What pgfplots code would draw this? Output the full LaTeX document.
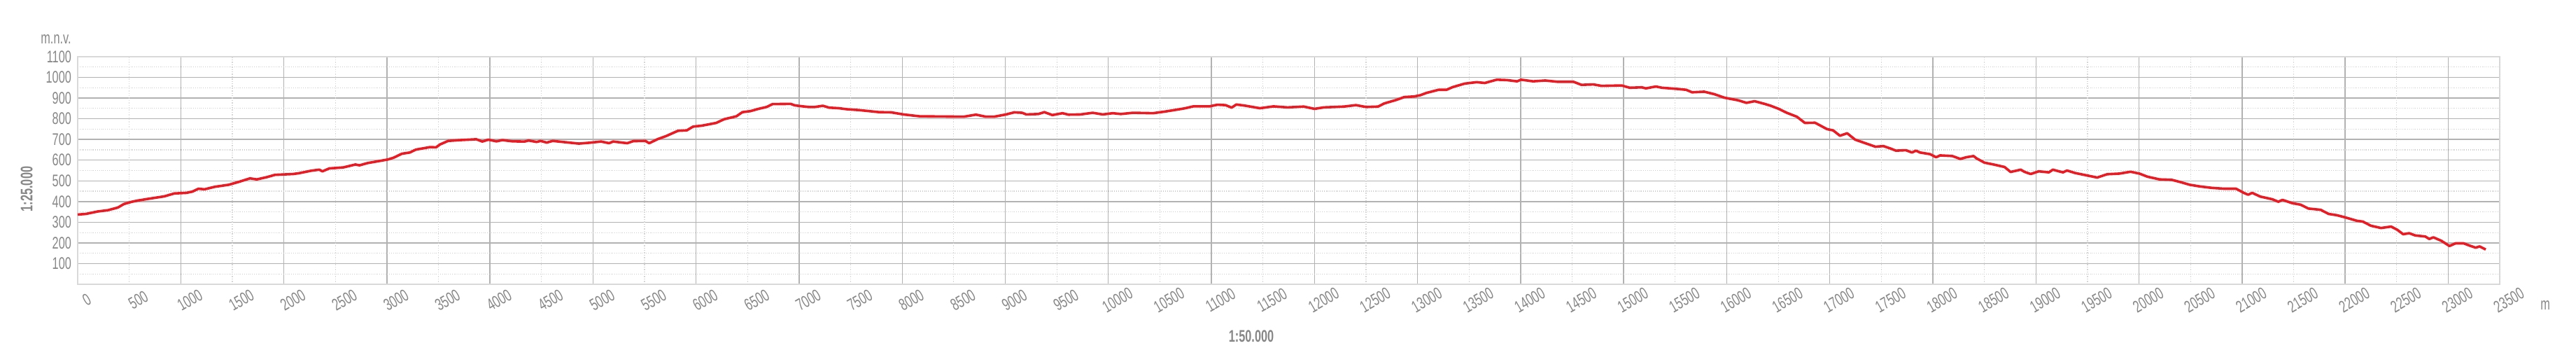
\documentclass[border=0pt]{standalone}
\usepackage{pgfplots}
\pgfplotsset{compat=1.18}
\usepackage{fontspec}
\setmainfont{Liberation Sans}[FakeStretch=0.68]
\definecolor{txt}{RGB}{135,135,135}
\definecolor{prof}{RGB}{232,28,36}
\begin{document}
\begin{tikzpicture}[font=\fontsize{12}{14}\selectfont]
\useasboundingbox (-55.5pt,-55pt) rectangle (1785pt,203pt);
\begin{axis}[
 at={(0,0)}, anchor=south west,
 scale only axis, width=1730.5pt, height=162.5pt,
 xmin=0, xmax=23500, ymin=0, ymax=1100,
 xtick={0,1000,...,23000},
 extra x ticks={500,1500,...,23500},
 extra x tick style={grid=major, major grid style={black!16, densely dotted, line width=0.6pt}},
 ytick={100,200,...,1100},
 minor ytick={50,150,...,1050},
 grid=both,
 major grid style={black!30, line width=0.7pt},
 minor grid style={black!20, densely dotted, line width=0.6pt},
 major tick length=0pt, minor tick length=0pt,
 axis line style={black!15, line width=0.8pt},
 /pgf/number format/1000 sep={},
 scaled x ticks=false,
 tick label style={text=txt, /pgf/number format/assume math mode=true},
 xticklabel style={rotate=30, anchor=center, yshift=-13pt},
 yticklabel style={xshift=-1pt},
]
\addplot[prof, line width=1.8pt, line join=round] table {
0 337
78 340
195 352
293 358
390 371
449 388
527 399
586 405
684 413
840 425
937 439
1055 442
1113 448
1172 462
1230 459
1328 471
1465 481
1563 495
1672 512
1738 507
1836 518
1914 529
2090 533
2148 537
2266 549
2344 554
2375 546
2441 560
2578 565
2695 579
2734 575
2813 586
3008 603
3066 612
3145 631
3223 637
3281 651
3418 663
3477 662
3516 676
3594 693
3711 697
3867 701
3926 690
3984 699
4063 691
4121 697
4219 691
4336 690
4375 695
4453 688
4492 693
4551 685
4609 693
4863 680
4961 684
5078 690
5156 682
5195 690
5332 682
5391 692
5508 693
5545 682
5629 702
5707 716
5824 742
5910 744
5970 762
6059 767
6195 780
6273 798
6391 812
6449 832
6527 837
6605 848
6684 857
6742 871
6918 872
6957 865
7035 860
7094 857
7152 857
7230 863
7289 854
7387 851
7465 846
7582 842
7777 832
7894 831
8012 821
8168 812
8597 810
8715 820
8812 810
8891 810
9008 821
9086 831
9164 829
9203 821
9320 823
9379 832
9457 818
9555 827
9613 820
9730 821
9848 829
9945 821
10043 827
10121 823
10238 829
10434 827
10551 835
10688 846
10746 851
10824 860
10981 860
11059 868
11137 866
11196 854
11242 869
11332 863
11470 851
11602 860
11738 855
11895 859
12000 848
12090 855
12285 859
12402 866
12500 857
12617 859
12676 874
12793 891
12871 905
12969 908
13027 914
13086 925
13203 940
13281 940
13340 953
13457 970
13574 977
13652 973
13769 989
13867 987
13965 981
14004 989
14121 981
14238 985
14355 979
14512 979
14590 964
14707 966
14785 959
14980 961
15058 950
15176 952
15215 947
15312 956
15371 950
15527 944
15606 940
15664 928
15781 931
15879 919
15977 902
16113 889
16191 877
16270 885
16367 872
16426 863
16504 848
16582 829
16680 810
16758 780
16856 781
16973 750
17032 744
17098 718
17168 730
17246 699
17344 682
17442 665
17520 668
17590 656
17641 646
17738 648
17797 637
17836 646
17875 637
17973 629
18031 614
18070 623
18188 620
18266 606
18324 614
18395 620
18422 609
18500 588
18598 578
18695 567
18754 543
18852 554
18891 543
18949 533
19027 546
19125 541
19164 554
19223 546
19262 541
19301 550
19379 538
19496 526
19594 516
19691 532
19809 535
19918 544
20004 535
20082 520
20199 507
20316 505
20395 495
20492 481
20590 473
20707 466
20824 462
20941 462
21020 441
21059 433
21098 442
21176 424
21293 411
21352 399
21391 408
21488 392
21566 385
21644 366
21762 360
21840 340
21918 334
21996 324
22113 307
22172 303
22250 283
22348 272
22445 279
22504 264
22563 242
22621 247
22680 236
22777 231
22816 219
22856 227
22934 210
23012 185
23071 198
23149 198
23207 187
23266 177
23305 183
23364 168
};
\end{axis}
\node[text=txt] at (-15.5pt,175pt) {m.n.v.};
\node[text=txt, rotate=90, font=\fontsize{12}{14}\selectfont\bfseries] at (-36.5pt,68pt) {1:25.000};
\node[text=txt, font=\fontsize{12}{14}\selectfont\bfseries] at (838.5pt,-37pt) {1:50.000};
\node[text=txt] at (1763pt,-15pt) {m};
\end{tikzpicture}
\end{document}
